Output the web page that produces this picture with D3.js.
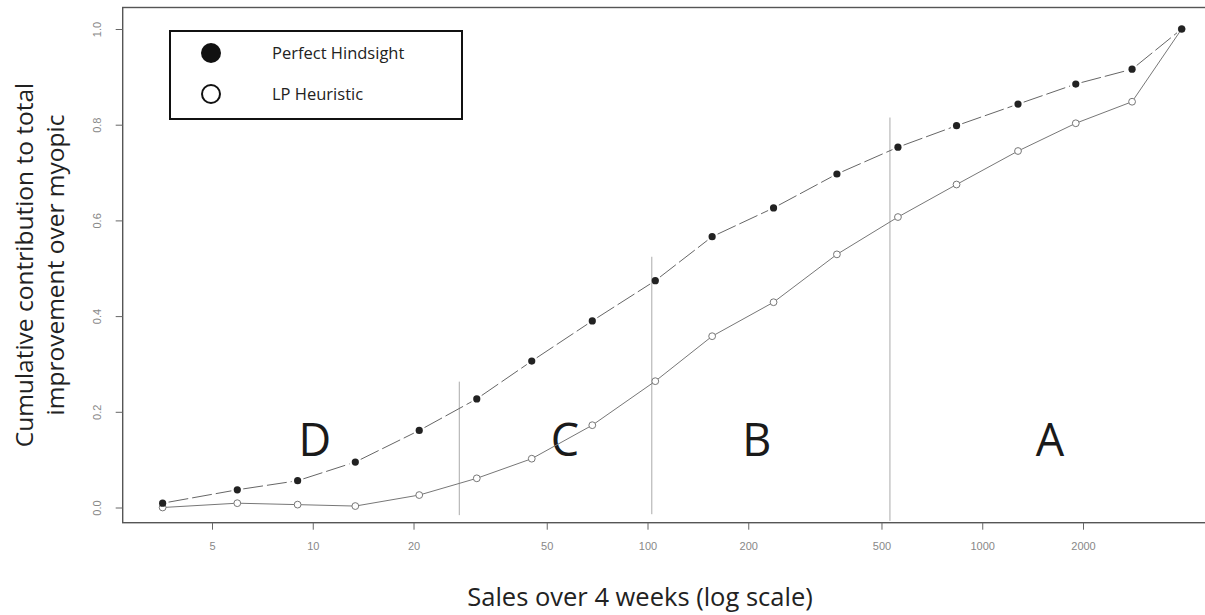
<!DOCTYPE html>
<html>
<head>
<meta charset="utf-8">
<script src="https://cdn.jsdelivr.net/npm/d3@7"></script>
<style>
  html, body { margin: 0; padding: 0; background: #fff; }
  svg { display: block; }
</style>
</head>
<body>
<svg id="chart" width="1205" height="615"></svg>
<script>
// Sales bins (units over 4 weeks) and cumulative share of the total improvement
const sales = [3.56, 5.95, 9.01, 13.4, 20.8, 30.9, 45.1, 68.4, 105.5, 156,
               238, 368, 560, 838, 1279, 1903, 2803, 3943];
const perfectHindsight = [0.009, 0.037, 0.056, 0.095, 0.161, 0.227, 0.306, 0.390, 0.474, 0.566,
                          0.626, 0.697, 0.753, 0.798, 0.843, 0.885, 0.916, 1.0];
const lpHeuristic = [0.0, 0.009, 0.006, 0.003, 0.026, 0.061, 0.102, 0.172, 0.264, 0.358,
                     0.429, 0.529, 0.607, 0.675, 0.745, 0.803, 0.848, 1.0];

// ABCD class boundaries and labels
const classBounds = [27.4, 103, 530];
const classTops = [0.263, 0.524, 0.815];
const classBottoms = [-0.016, -0.014, -0.028];
const classNames = ["D", "C", "B", "A"];
const classLabelX = [10.15, 56.7, 212, 1594];
const classLabelY = 0.107;

const xTicks = [5, 10, 20, 50, 100, 200, 500, 1000, 2000];
const yTicks = [0, 0.2, 0.4, 0.6, 0.8, 1.0];

const svg = d3.select("#chart");

const x = d3.scaleLog().domain([5, 2000]).range([212, 1083]);
const y = d3.scaleLinear().domain([0, 1]).range([507.5, 29]);

const box = { left: 122.7, top: 7.5, right: 1215, bottom: 522.7 };

// plot frame
svg.append("rect")
  .attr("x", box.left).attr("y", box.top)
  .attr("width", box.right - box.left).attr("height", box.bottom - box.top)
  .attr("fill", "none").attr("stroke", "#555").attr("stroke-width", 1.4);

// x axis
const xAxis = d3.axisBottom(x).tickValues(xTicks).tickFormat(d3.format("d"))
  .tickSize(7).tickPadding(13);
const gx = svg.append("g").attr("transform", `translate(0,${box.bottom})`).call(xAxis);
gx.select(".domain").remove();
gx.selectAll(".tick line").attr("stroke", "#666");
gx.selectAll(".tick text")
  .attr("fill", "#888").style("font-family", "'Liberation Sans', Arial, sans-serif")
  .style("font-size", "11px");

// y axis (rotated labels)
const yAxis = d3.axisLeft(y).tickValues(yTicks).tickFormat(d3.format(".1f"))
  .tickSize(7).tickPadding(0);
const gy = svg.append("g").attr("transform", `translate(${box.left},0)`).call(yAxis);
gy.select(".domain").remove();
gy.selectAll(".tick line").attr("stroke", "#666");
gy.selectAll(".tick text")
  .attr("x", null).attr("dy", null)
  .attr("text-anchor", "middle")
  .attr("transform", "translate(-26,0) rotate(-90)")
  .attr("dy", "0.35em")
  .attr("fill", "#888").style("font-family", "'Liberation Sans', Arial, sans-serif")
  .style("font-size", "11px");

// class boundaries
svg.append("g").selectAll("line")
  .data(classBounds)
  .join("line")
  .attr("x1", d => x(d)).attr("x2", d => x(d))
  .attr("y1", (d, i) => y(classTops[i])).attr("y2", (d, i) => y(classBottoms[i]))
  .attr("stroke", "#aaa").attr("stroke-width", 1);

// class letters
svg.append("g").selectAll("text")
  .data(classNames)
  .join("text")
  .attr("x", (d, i) => x(classLabelX[i]))
  .attr("y", y(classLabelY))
  .attr("text-anchor", "middle")
  .attr("fill", "#1a1a1a")
  .style("font-family", "'Open Sans', sans-serif")
  .style("font-size", "45px")
  .text(d => d);

const ph = sales.map((s, i) => [x(s), y(perfectHindsight[i])]);
const lp = sales.map((s, i) => [x(s), y(lpHeuristic[i])]);

// Perfect Hindsight: dashed segments that stop short of each point
const gap = 6;
const segs = d3.pairs(ph).map(([a, b]) => {
  const dx = b[0] - a[0], dy = b[1] - a[1];
  const len = Math.hypot(dx, dy);
  const ux = dx / len, uy = dy / len;
  return [a[0] + ux * gap, a[1] + uy * gap, b[0] - ux * gap, b[1] - uy * gap];
});
svg.append("g").selectAll("line")
  .data(segs)
  .join("line")
  .attr("x1", d => d[0]).attr("y1", d => d[1])
  .attr("x2", d => d[2]).attr("y2", d => d[3])
  .attr("stroke", "#666").attr("stroke-width", 1)
  .attr("stroke-dasharray", "20 4");

// LP Heuristic: solid line through the points
svg.append("path")
  .datum(lp)
  .attr("d", d3.line())
  .attr("fill", "none").attr("stroke", "#777").attr("stroke-width", 1);

svg.append("g").selectAll("circle")
  .data(lp)
  .join("circle")
  .attr("cx", d => d[0]).attr("cy", d => d[1]).attr("r", 3.4)
  .attr("fill", "#fff").attr("stroke", "#777").attr("stroke-width", 1);

svg.append("g").selectAll("circle")
  .data(ph)
  .join("circle")
  .attr("cx", d => d[0]).attr("cy", d => d[1]).attr("r", 3.6)
  .attr("fill", "#222");

// legend
const legend = svg.append("g");
legend.append("rect")
  .attr("x", 170).attr("y", 31).attr("width", 292).attr("height", 88)
  .attr("fill", "#fff").attr("stroke", "#111").attr("stroke-width", 2);
legend.append("circle").attr("cx", 211).attr("cy", 53).attr("r", 10).attr("fill", "#111");
legend.append("circle").attr("cx", 211).attr("cy", 94).attr("r", 9)
  .attr("fill", "#fff").attr("stroke", "#111").attr("stroke-width", 2);
legend.append("text").attr("x", 272).attr("y", 59)
  .style("font-family", "'Open Sans', sans-serif").style("font-size", "16.5px")
  .attr("fill", "#222").text("Perfect Hindsight");
legend.append("text").attr("x", 272).attr("y", 100)
  .style("font-family", "'Open Sans', sans-serif").style("font-size", "16.5px")
  .attr("fill", "#222").text("LP Heuristic");

// axis titles
const yTitle = svg.append("text")
  .attr("transform", "translate(0,265) rotate(-90)")
  .attr("text-anchor", "middle")
  .attr("fill", "#222")
  .style("font-family", "'Open Sans', sans-serif").style("font-size", "24.5px");
yTitle.append("tspan").attr("x", 0).attr("y", 33).text("Cumulative contribution to total");
yTitle.append("tspan").attr("x", 0).attr("y", 64).text("improvement over myopic");

svg.append("text")
  .attr("x", 640).attr("y", 606)
  .attr("text-anchor", "middle")
  .attr("fill", "#222")
  .style("font-family", "'Open Sans', sans-serif").style("font-size", "25.5px")
  .text("Sales over 4 weeks (log scale)");
</script>
</body>
</html>
